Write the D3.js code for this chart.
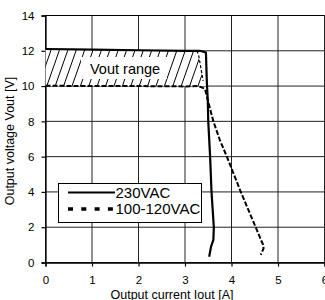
<!DOCTYPE html>
<html><head><meta charset="utf-8">
<script src="https://cdn.jsdelivr.net/npm/d3@7"></script>
<style>body{margin:0;background:#fff}svg{display:block;font-family:"Liberation Sans",Arial,sans-serif}</style>
</head><body>
<script>
const xTicks = [0,1,2,3,4,5,6];
const yTicks = [0,2,4,6,8,10,12,14];
const seriesNames = ["230VAC","100-120VAC"];
const vac230 = [[0,12.1],[1,12.07],[2,12.03],[3,12.0],[3.32,12.0],[3.45,11.9],[3.47,10.2],[3.49,9.2],[3.5,8],[3.54,6],[3.57,4],[3.62,2],[3.61,1.28],[3.56,0.9],[3.52,0.33]];
const vac100 = [[0,10.02],[1,10.0],[2,10.0],[3,9.98],[3.28,10],[3.43,9.85],[3.49,9.2],[3.61,8],[3.75,6.94],[3.9,6],[4.2,4],[4.52,2],[4.68,1.0],[4.69,0.8],[4.63,0.43]];
const vac100At12 = [[3.25,12.0],[3.29,11.8],[3.39,10.3]];
const rangeFill = [[0,12.1],[3.32,12.0],[3.45,11.9],[3.47,10],[0,10]];
const rangeHatch = [[0,12.1],[3.25,12.0],[3.3,11.6],[3.38,10.3],[3.3,10],[0,10]];
const rangeLabel = "Vout range";
const xTitle = "Output current Iout [A]";
const yTitle = "Output voltage Vout [V]";

const W = 325, H = 300;
const svg = d3.select("body").append("svg").attr("width", W).attr("height", H);
const x = d3.scaleLinear().domain([0,6]).range([45.5,324.5]);
const y = d3.scaleLinear().domain([0,14]).range([262.5,15.5]);

// grid
const g = svg.append("g");
g.selectAll(".vx").data(xTicks).join("line")
  .attr("x1", d=>x(d)).attr("x2", d=>x(d)).attr("y1", y(0)).attr("y2", y(14))
  .attr("stroke", "#222").attr("stroke-width", 1);
g.selectAll(".hy").data(yTicks).join("line")
  .attr("x1", x(0)).attr("x2", x(6)).attr("y1", d=>y(d)).attr("y2", d=>y(d))
  .attr("stroke", "#222").attr("stroke-width", 1);

// axes ticks
const xAxis = d3.axisBottom(x).tickValues(xTicks).tickSize(4).tickPadding(9).tickFormat(d3.format("d"));
const yAxis = d3.axisLeft(y).tickValues(yTicks).tickSize(4).tickPadding(7).tickFormat(d3.format("d"));
const ax = svg.append("g").attr("transform", `translate(0,${y(0)})`).call(xAxis);
const ay = svg.append("g").attr("transform", `translate(${x(0)},0)`).call(yAxis);
[ax, ay].forEach(a => {
  a.select(".domain").attr("stroke", "#000").attr("stroke-width", 1.3);
  a.selectAll(".tick line").attr("stroke", "#000").attr("stroke-width", 1.2);
  a.selectAll("text").attr("font-size", 11.5).attr("fill", "#000").attr("font-family", '"Liberation Sans",Arial,sans-serif');
});

// range region
const poly = d3.line().x(d=>x(d[0])).y(d=>y(d[1]));
svg.append("path").attr("d", poly(rangeFill) + "Z").attr("fill", "#fff");
svg.append("clipPath").attr("id", "hc").append("path").attr("d", poly(rangeHatch) + "Z");
const hg = svg.append("g").attr("clip-path", "url(#hc)");
hg.selectAll("line").data(d3.range(30, 215, 8.4)).join("line")
  .attr("x1", d=>d).attr("y1", y(10)).attr("x2", d=>d+13).attr("y2", y(12.1))
  .attr("stroke", "#000").attr("stroke-width", 1);
svg.append("rect").attr("x", 81).attr("y", 57).attr("width", 86).attr("height", 22).attr("fill", "#fff");
svg.append("text").attr("x", 90).attr("y", 73.5).attr("font-size", 14.5).text(rangeLabel);

// series
const line = d3.line().x(d=>x(d[0])).y(d=>y(d[1])).curve(d3.curveLinear);
svg.append("path").attr("d", line(vac100At12)).attr("fill", "none")
  .attr("stroke", "#000").attr("stroke-width", 1.2).attr("stroke-dasharray", "3,2");
svg.append("path").attr("d", line(vac100)).attr("fill", "none")
  .attr("stroke", "#000").attr("stroke-width", 2).attr("stroke-dasharray", "5,2");
svg.append("path").attr("d", line(vac230)).attr("fill", "none")
  .attr("stroke", "#000").attr("stroke-width", 2.2).attr("stroke-linejoin", "round");

// top border
svg.append("line").attr("x1", x(0)).attr("x2", x(6)).attr("y1", y(14)).attr("y2", y(14)).attr("stroke", "#000").attr("stroke-width", 1.2);

// legend
const lg = svg.append("g");
lg.append("rect").attr("x", 58.5).attr("y", 183.5).attr("width", 143).attr("height", 39)
  .attr("fill", "#fff").attr("stroke", "#000").attr("stroke-width", 1);
lg.append("line").attr("x1", 68).attr("x2", 115).attr("y1", 192.5).attr("y2", 192.5)
  .attr("stroke", "#000").attr("stroke-width", 2);
lg.append("line").attr("x1", 68).attr("x2", 115).attr("y1", 209).attr("y2", 209)
  .attr("stroke", "#000").attr("stroke-width", 3.5).attr("stroke-dasharray", "5,8.3");
lg.append("text").attr("x", 115.5).attr("y", 197.8).attr("font-size", 15).text(seriesNames[0]);
lg.append("text").attr("x", 115.5).attr("y", 213.8).attr("font-size", 15).text(seriesNames[1]);

// titles
svg.append("text").attr("x", 172).attr("y", 298.5).attr("text-anchor", "middle").attr("font-size", 12.5).text(xTitle);
svg.append("text").attr("transform", "translate(13.5,141) rotate(-90)").attr("text-anchor", "middle").attr("font-size", 12.5).text(yTitle);
</script>
</body></html>
